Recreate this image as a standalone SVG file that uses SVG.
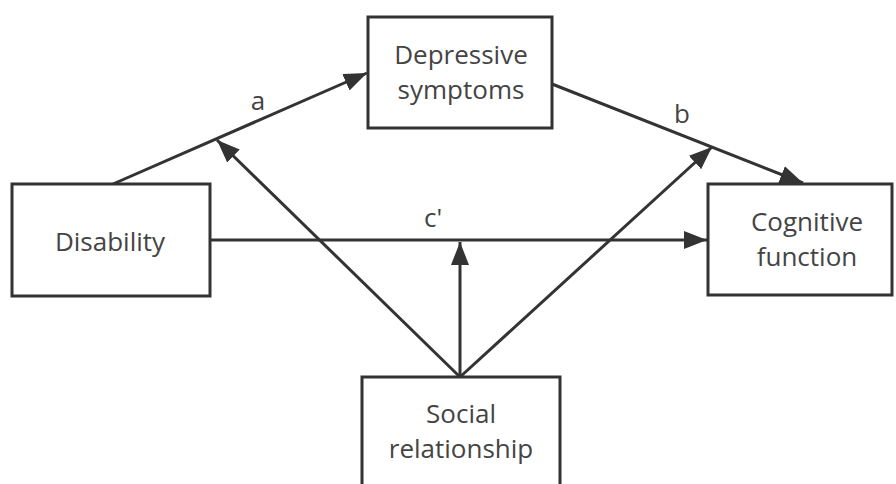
<svg xmlns="http://www.w3.org/2000/svg" width="896" height="484" viewBox="0 0 896 484">
<defs>
<marker id="ah" markerUnits="userSpaceOnUse" markerWidth="26" markerHeight="20" refX="23" refY="9" orient="auto">
<path d="M0,0 L23,9 L0,18 Z" fill="#333"/>
</marker>
<style>
.box{fill:#fff;stroke:#333;stroke-width:3}
.t{font-family:"Open Sans","Noto Sans",sans-serif;font-size:26px;fill:#444;text-anchor:middle}
.c{stroke:#333;stroke-width:3;fill:none;marker-end:url(#ah)}
</style>
</defs>
<rect width="896" height="484" fill="#fff"/>
<g id="connectors">
<line class="c" x1="113" y1="184" x2="367" y2="73"/>
<line class="c" x1="552" y1="84" x2="803" y2="183"/>
<line class="c" x1="210" y1="240" x2="707" y2="240"/>
<line class="c" x1="460" y1="377" x2="460" y2="242"/>
<line class="c" x1="460" y1="377" x2="217" y2="140"/>
<line class="c" x1="460" y1="377" x2="712" y2="147"/>
<text class="t" x="258" y="110">a</text>
<text class="t" x="682" y="123">b</text>
<text class="t" x="433" y="227">c'</text>
</g>
<g id="disability">
<rect class="box" x="12" y="184" width="198" height="112"/>
<text class="t" x="110" y="251">Disability</text>
</g>
<g id="depressive">
<rect class="box" x="368" y="17" width="184" height="111"/>
<text class="t" x="461" y="64">Depressive</text>
<text class="t" x="461" y="99">symptoms</text>
</g>
<g id="cognitive">
<rect class="box" x="708" y="184" width="184" height="111"/>
<text class="t" x="807" y="231">Cognitive</text>
<text class="t" x="807" y="266">function</text>
</g>
<g id="social">
<rect class="box" x="362" y="377" width="198" height="120"/>
<text class="t" x="461" y="423">Social</text>
<text class="t" x="461" y="458">relationship</text>
</g>
</svg>
